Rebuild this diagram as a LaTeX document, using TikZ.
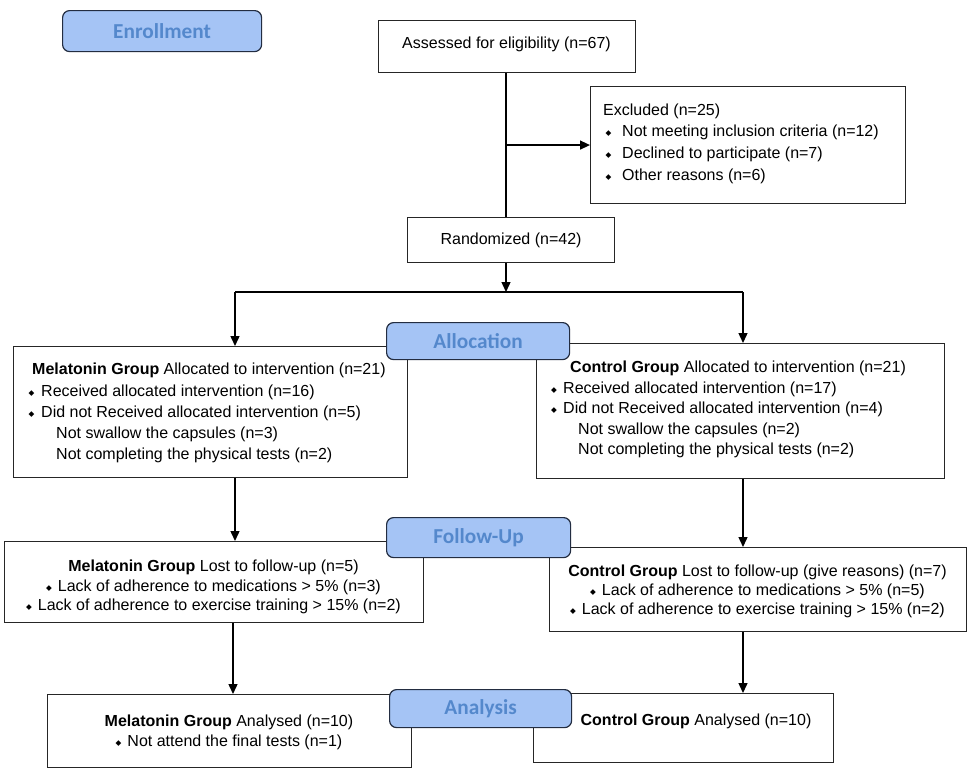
\documentclass[tikz,border=0pt]{standalone}
\usepackage{fontspec}
\setmainfont{Liberation Sans}
\newfontfamily\labfont{Carlito}
\newfontfamily\symfont{DejaVu Sans}
\usetikzlibrary{arrows.meta}
\definecolor{labfill}{RGB}{165,196,245}
\definecolor{labtext}{RGB}{84,136,204}
\definecolor{labdraw}{RGB}{35,45,65}
\newcommand\bul{{\symfont\fontsize{7.5}{7.5}\selectfont\raisebox{1pt}{◆}}}
\newcommand\bitem[2]{\makebox[#2pt][l]{\hspace*{#1pt}\bul}}
\begin{document}
\begin{tikzpicture}[x=1pt,y=-1pt,
 box/.style={draw=black!85, line width=1.1pt, fill=white, inner sep=0pt, anchor=north west, font=\fontsize{16}{21}\selectfont},
 lab/.style={draw=labdraw, line width=1.2pt, fill=labfill, rounded corners=7pt, inner sep=0pt, anchor=north west, font=\labfont\bfseries\fontsize{21.3}{21.3}\selectfont, text=labtext},
 txt/.style={inner sep=0pt},
 conn/.style={line width=1.4pt},
 arr/.style={conn, -{Triangle[length=10pt,width=9pt]}}]
\fill[white] (0,0) rectangle (972,774);
\useasboundingbox (0,0) rectangle (972,774);

% boxes
\node[box, minimum width=257pt, minimum height=52pt] (assess) at (378,20) {};
\node[box, minimum width=315pt, minimum height=117pt] (excl) at (590,86) {};
\node[box, minimum width=207pt, minimum height=45pt] (rand) at (407,217) {Randomized (n=42)};
\node[box, minimum width=394pt, minimum height=131pt] (mal) at (13,346) {};
\node[box, minimum width=408pt, minimum height=135pt] (cal) at (536,343) {};
\node[box, minimum width=419pt, minimum height=81pt] (mfu) at (4,541) {};
\node[box, minimum width=417pt, minimum height=84pt] (cfu) at (549,547) {};
\node[box, minimum width=364pt, minimum height=73pt] (man) at (47,694) {};
\node[box, minimum width=300pt, minimum height=69pt] (can) at (533,693) {};

% texts
\node[txt, anchor=north, font=\fontsize{16}{21}\selectfont] (assesst) at (506.5,37)
 {Assessed for eligibility (n=67)};
\node[txt, anchor=north west, align=left, font=\fontsize{16}{21.6}\selectfont] (exclt) at (603,103.5)
 {Excluded (n=25)\\
  \bitem{2.5}{19}Not meeting inclusion criteria (n=12)\\
  \bitem{2.5}{19}Declined to participate (n=7)\\
  \bitem{2.5}{19}Other reasons (n=6)};
\node[txt, anchor=north west, align=left, font=\fontsize{16}{21.2}\selectfont] (malt) at (28,363)
 {\hspace*{4pt}\textbf{Melatonin Group} Allocated to intervention (n=21)\\
  \bitem{0.5}{13}Received allocated intervention (n=16)\\
  \bitem{0.5}{13}Did not Received allocated intervention (n=5)\\
  \hspace*{28pt}Not swallow the capsules (n=3)\\
  \hspace*{28pt}Not completing the physical tests (n=2)};
\node[txt, anchor=north west, align=left, font=\fontsize{16}{20.4}\selectfont] (calt) at (550,361)
 {\hspace*{20pt}\textbf{Control Group} Allocated to intervention (n=21)\\
  \bitem{1}{13}Received allocated intervention (n=17)\\
  \bitem{1}{13}Did not Received allocated intervention (n=4)\\
  \hspace*{28pt}Not swallow the capsules (n=2)\\
  \hspace*{28pt}Not completing the physical tests (n=2)};
\node[txt, anchor=north, align=center, font=\fontsize{16}{19.5}\selectfont] (mfut) at (213.5,560)
 {\textbf{Melatonin Group} Lost to follow-up (n=5)\\
  \bul\hspace{6pt}Lack of adherence to medications > 5\% (n=3)\\
  \bul\hspace{6pt}Lack of adherence to exercise training > 15\% (n=2)};
\node[txt, anchor=north, align=center, font=\fontsize{16}{18.6}\selectfont] (cfut) at (757.5,565)
 {\textbf{Control Group} Lost to follow-up (give reasons) (n=7)\\
  \bul\hspace{6pt}Lack of adherence to medications > 5\% (n=5)\\
  \bul\hspace{6pt}Lack of adherence to exercise training > 15\% (n=2)};
\node[txt, anchor=north, align=center, font=\fontsize{16}{20}\selectfont] (mant) at (229,715)
 {\textbf{Melatonin Group} Analysed (n=10)\\
  \bul\hspace{6pt}Not attend the final tests (n=1)};
\node[txt, anchor=north, align=center, font=\fontsize{16}{20}\selectfont] (cant) at (696,714)
 {\textbf{Control Group} Analysed (n=10)};

% connectors
\coordinate (split) at (506,292);
\coordinate (lft) at (235,292);
\coordinate (rgt) at (743,292);
\coordinate (lft2) at (233,0);
\draw[conn] (split |- assess.south) -- (split |- rand.north);
\draw[arr] (split |- excl.west) -- (excl.west);
\draw[arr] (split |- rand.south) -- (split);
\draw[conn] (lft) -- (rgt);
\draw[arr] (lft) -- (lft |- mal.north);
\draw[arr] (rgt) -- (rgt |- cal.north);
\draw[arr] (lft |- mal.south) -- (lft |- mfu.north);
\draw[arr] (rgt |- cal.south) -- (rgt |- cfu.north);
\draw[arr] (lft2 |- mfu.south) -- (lft2 |- man.north);
\draw[arr] (rgt |- cfu.south) -- (rgt |- can.north);

% stage labels
\node[lab, minimum width=199pt, minimum height=41pt] (enr) at (62,10) {Enrollment};
\node[lab, minimum width=183pt, minimum height=37pt] (alo) at (386,322) {Allocation};
\node[lab, minimum width=184pt, minimum height=40pt] (fol) at (386,517) {Follow-Up};
\node[lab, minimum width=182pt, minimum height=38pt] (ana) at (389,689) {Analysis};
\end{tikzpicture}
\end{document}
